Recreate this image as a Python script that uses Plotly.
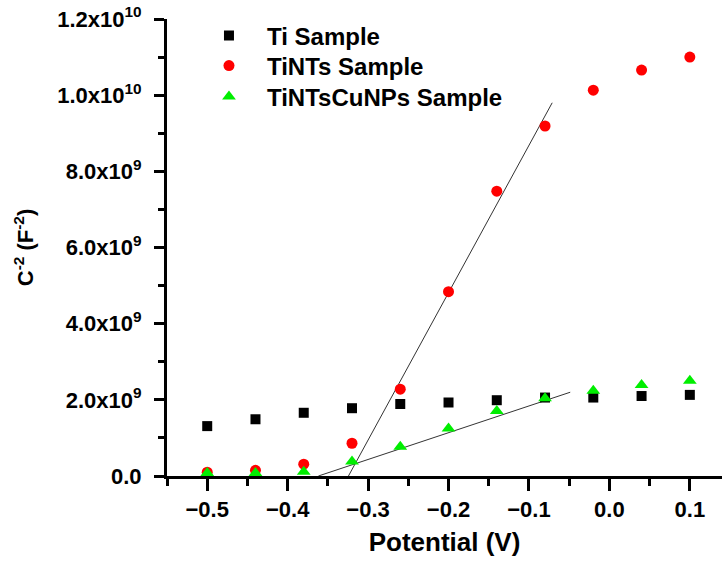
import plotly.graph_objects as go

potential = [-0.50, -0.44, -0.38, -0.32, -0.26, -0.20, -0.14, -0.08, -0.02, 0.04, 0.10]
ti = [1.31e9, 1.49e9, 1.66e9, 1.78e9, 1.89e9, 1.93e9, 1.99e9, 2.06e9, 2.06e9, 2.10e9, 2.13e9]
tints = [0.10e9, 0.15e9, 0.31e9, 0.86e9, 2.28e9, 4.84e9, 7.48e9, 9.19e9, 10.13e9, 10.66e9, 11.0e9]
tintscu = [0.08e9, 0.08e9, 0.11e9, 0.38e9, 0.77e9, 1.25e9, 1.71e9, 2.04e9, 2.24e9, 2.39e9, 2.50e9]

fit_tints_x = [-0.3244, -0.0711]
fit_tints_y = [0.0, 9.80e9]
fit_cu_x = [-0.3618, -0.0487]
fit_cu_y = [0.0, 2.20e9]

series_names = ["Ti Sample", "TiNTs Sample", "TiNTsCuNPs Sample"]

y_tickvals = [0, 2e9, 4e9, 6e9, 8e9, 1.0e10, 1.2e10]
y_ticktext = ["0.0", "2.0x10<sup>9</sup>", "4.0x10<sup>9</sup>", "6.0x10<sup>9</sup>",
              "8.0x10<sup>9</sup>", "1.0x10<sup>10</sup>", "1.2x10<sup>10</sup>"]

FONT = "Liberation Sans, Arial, sans-serif"

fig = go.Figure()
fig.add_trace(go.Scatter(x=fit_tints_x, y=fit_tints_y, mode="lines",
                         line=dict(color="#333333", width=1), showlegend=False, hoverinfo="skip"))
fig.add_trace(go.Scatter(x=fit_cu_x, y=fit_cu_y, mode="lines",
                         line=dict(color="#333333", width=1), showlegend=False, hoverinfo="skip"))
fig.add_trace(go.Scatter(x=potential, y=ti, mode="markers", name=series_names[0], legend="legend",
                         marker=dict(symbol="square", color="black", size=10)))
fig.add_trace(go.Scatter(x=potential, y=tints, mode="markers", name=series_names[1], legend="legend2",
                         marker=dict(symbol="circle", color="#ff0000", size=11)))
fig.add_trace(go.Scatter(x=potential, y=tintscu, mode="markers", name=series_names[2], legend="legend3",
                         marker=dict(symbol="triangle-up", color="#00ee00", size=12)))

# plot area spans 19..476 px vertically
def leg(ypx):
    return dict(x=0.0432, y=(476 - ypx) / 457, xanchor="left", yanchor="middle",
                bgcolor="rgba(0,0,0,0)", font=dict(size=24, weight="bold"),
                itemwidth=66)

fig.update_layout(
    width=722, height=563,
    margin=dict(l=167, r=0, t=19, b=87),
    paper_bgcolor="white", plot_bgcolor="white",
    font=dict(family=FONT, size=22, color="black", weight="bold"),
    legend=leg(36), legend2=leg(66), legend3=leg(97),
    xaxis=dict(
        range=[-0.55, 0.14], showgrid=False, zeroline=False,
        showline=True, linecolor="black", linewidth=3,
        ticks="outside", tickwidth=3, ticklen=12, tickcolor="black",
        tick0=-0.5, dtick=0.1, tickformat=".1f",
        minor=dict(ticks="outside", dtick=0.05, tick0=-0.55, ticklen=7, tickwidth=3, tickcolor="black"),
        title=dict(text="Potential (V)", font=dict(size=26, weight="bold"), standoff=12),
    ),
    yaxis=dict(
        range=[0, 1.2e10], showgrid=False, zeroline=False,
        showline=True, linecolor="black", linewidth=3,
        ticks="outside", tickwidth=3, ticklen=10, tickcolor="black",
        ticklabelstandoff=8,
        tickvals=y_tickvals, ticktext=y_ticktext,
        minor=dict(ticks="outside", tickvals=[1e9, 3e9, 5e9, 7e9, 9e9, 1.1e10],
                   ticklen=6, tickwidth=3, tickcolor="black"),
        title=dict(text="C<sup>-2</sup> (F<sup>-2</sup>)", font=dict(size=22, weight="bold"), standoff=18),
    ),
)

fig.write_html("out.html")
